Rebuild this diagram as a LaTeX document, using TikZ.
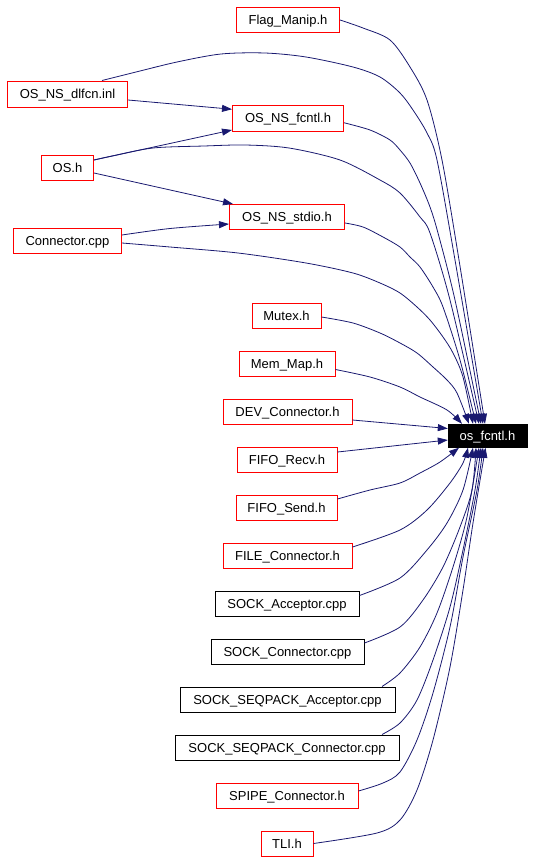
\documentclass[tikz,border=0pt]{standalone}
\usepackage{fontspec}
\setmainfont{Liberation Sans}
\usetikzlibrary{arrows.meta}
\definecolor{edgeblue}{HTML}{191970}
\definecolor{boxred}{HTML}{FF0000}
\begin{document}
\begin{tikzpicture}[x=1bp,y=-1bp,
  redfile/.style={draw=boxred, line width=1bp, rectangle, inner sep=0pt, minimum height=25bp, fill=white, text height=9.3bp, text depth=0pt, font=\fontsize{13bp}{15bp}\selectfont},
  blackfile/.style={redfile, draw=black},
  target/.style={rectangle, fill=black, draw=black, text=white, inner sep=0pt, minimum height=23.5bp, minimum width=79bp, text height=9.3bp, text depth=0pt, font=\fontsize{13bp}{15bp}\selectfont},
  edge/.style={draw=edgeblue, line width=0.8bp, -{Triangle[length=10bp,width=7bp]}},
]
\useasboundingbox (0,0) rectangle (533,861);

\node[redfile, minimum width=103bp] (flag) at (288,20) {Flag\_Manip.h};
\node[redfile, minimum width=120bp, minimum height=26bp] (dlfcn) at (67.5,94) {OS\_NS\_dlfcn.inl};
\node[redfile, minimum width=111bp, minimum height=25.5bp] (nsfcntl) at (288,118.25) {OS\_NS\_fcntl.h};
\node[redfile, minimum width=52bp] (os) at (67.5,168) {OS.h};
\node[redfile, minimum width=115bp] (stdio) at (287,217) {OS\_NS\_stdio.h};
\node[redfile, minimum width=108bp] (conn) at (67.5,241) {Connector.cpp};
\node[redfile, minimum width=69bp] (mutex) at (286.5,315.5) {Mutex.h};
\node[redfile, minimum width=96bp] (memmap) at (287,363.5) {Mem\_Map.h};
\node[redfile, minimum width=129bp] (dev) at (287.5,411.5) {DEV\_Connector.h};
\node[redfile, minimum width=100bp] (recv) at (287,459.5) {FIFO\_Recv.h};
\node[redfile, minimum width=101bp] (send) at (286.5,507.5) {FIFO\_Send.h};
\node[redfile, minimum width=129bp] (file) at (287.5,555.5) {FILE\_Connector.h};
\node[blackfile, minimum width=144bp] (socka) at (287,604) {SOCK\_Acceptor.cpp};
\node[blackfile, minimum width=153bp] (sockc) at (287.5,652) {SOCK\_Connector.cpp};
\node[blackfile, minimum width=215bp] (seqa) at (287.5,699.5) {SOCK\_SEQPACK\_Acceptor.cpp};
\node[blackfile, minimum width=224bp] (seqc) at (287,747.5) {SOCK\_SEQPACK\_Connector.cpp};
\node[redfile, minimum width=142bp] (spipe) at (287,795.5) {SPIPE\_Connector.h};
\node[redfile, minimum width=52bp] (tli) at (287,843.5) {TLI.h};
\node[target] (o) at (487.5,435.75) {os\_fcntl.h};

% edges between includers
\draw[edge] ([yshift=-6bp]dlfcn.east) -- ([yshift=9bp]nsfcntl.west);
\draw[edge] ([yshift=8bp]os.east) -- ([yshift=1.5bp]nsfcntl.south west);
\draw[edge] ([yshift=-5bp]os.east) -- ([xshift=4bp]stdio.north west);
\draw[edge] plot[smooth] coordinates {([yshift=6bp]conn.east) (170,228.5) ([yshift=-7bp]stdio.west)};

% edges into os_fcntl.h from above
\draw[edge] plot[smooth] coordinates {(flag.east) (363,28) (390,40) (410,67) (427,100) (442,160) (459,260) ([xshift=-2.5bp]o.north)};
\draw[edge] plot[smooth] coordinates {([xshift=34.5bp]dlfcn.north) (136,72) (177,62) (221,54) (265,53) (306,57) (353,67) (380,77) (400,93) (413,110) (427,133) (437,160) (455,260) ([xshift=-4.5bp]o.north)};
\draw[edge] plot[smooth] coordinates {([yshift=-4.5bp]nsfcntl.east) (370,130) (390,140) (400,150) (410,163) (420,183) (430,207) (438,233) (455,300) ([xshift=-6.5bp]o.north)};
\draw[edge] plot[smooth] coordinates {([yshift=8bp]os.east) (112,156) (153,148) (204,146) (245,145) (289,148) (340,160) (380,180) (400,193) (420,217) (430,233) (450,300) ([xshift=-8.5bp]o.north)};
\draw[edge] plot[smooth] coordinates {([yshift=-6bp]stdio.east) (363,227) (383,237) (400,247) (410,257) (420,267) (433,287) (443,307) (460,360) ([xshift=-11.5bp]o.north)};
\draw[edge] plot[smooth] coordinates {([yshift=-2bp]conn.east) (170,247) (238,253) (306,263) (353,273) (380,283) (400,293) (417,307) (430,320) (443,337) (453,353) (463,377) ([xshift=-14.5bp]o.north)};
\draw[edge] plot[smooth] coordinates {([yshift=-1.5bp]mutex.east) (353,323) (380,333) (400,343) (417,353) (433,367) (447,380) (457,393) ([xshift=-18.5bp]o.north)};
\draw[edge] plot[smooth] coordinates {([yshift=-6bp]memmap.east) (370,377) (400,387) (420,397) (447,410) ([xshift=-25.5bp]o.north)};

% from the left
\draw[edge] ([yshift=-8.5bp]dev.east) -- ([yshift=7.25bp]o.west);
\draw[edge] ([yshift=7.5bp]recv.east) -- ([yshift=-4.25bp]o.west);

% from below
\draw[edge] plot[smooth] coordinates {([yshift=8.5bp]send.east) (370,490) (400,483) (420,473) (440,462) ([xshift=-28.5bp]o.south)};
\draw[edge] plot[smooth] coordinates {([yshift=8.5bp]file.east) (400,530) (427,510) (450,483) (463,463) ([xshift=-19.5bp]o.south)};
\draw[edge] plot[smooth] coordinates {([yshift=8.5bp]socka.east) (400,578) (427,550) (447,523) (463,490) ([xshift=-14.5bp]o.south)};
\draw[edge] plot[smooth] coordinates {([yshift=9bp]sockc.east) (400,627) (423,600) (443,567) (460,527) (472,490) ([xshift=-11.5bp]o.south)};
\draw[edge] plot[smooth] coordinates {([xshift=94.5bp]seqa.north) (400,673) (420,647) (437,613) (453,567) (467,517) ([xshift=-8.5bp]o.south)};
\draw[edge] plot[smooth] coordinates {([xshift=95bp]seqc.north) (400,723) (417,700) (433,660) (450,607) (463,550) (475,490) ([xshift=-6.5bp]o.south)};
\draw[edge] plot[smooth] coordinates {([yshift=4.5bp]spipe.east) (383,783) (400,772) (417,740) (433,693) (450,627) (463,557) (477,490) ([xshift=-4.5bp]o.south)};
\draw[edge] plot[smooth] coordinates {(tli.east) (377,833) (400,820) (417,790) (433,740) (450,667) (463,590) (473,523) ([xshift=-2bp]o.south)};
\end{tikzpicture}
\end{document}
